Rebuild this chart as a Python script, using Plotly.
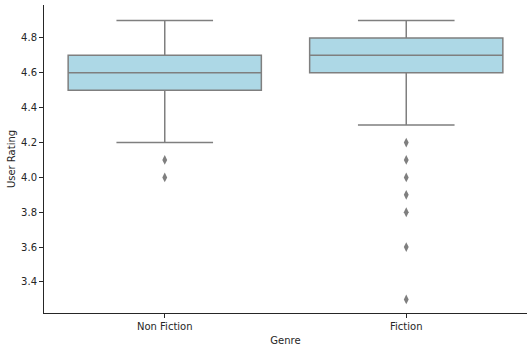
import plotly.graph_objects as go

genres = ["Non Fiction", "Fiction"]
q1 = [4.5, 4.6]
median = [4.6, 4.7]
q3 = [4.7, 4.8]
lower_whisker = [4.2, 4.3]
upper_whisker = [4.9, 4.9]
outliers_nonfiction = [4.0, 4.1]
outliers_fiction = [4.2, 4.1, 4.0, 3.9, 3.8, 3.6, 3.3]

box_fill = "#add8e6"
line_col = "#7f7f7f"
font = "DejaVu Sans"

fig = go.Figure()
fig.add_trace(go.Box(
    x=genres, q1=q1, median=median, q3=q3,
    lowerfence=lower_whisker, upperfence=upper_whisker,
    fillcolor=box_fill, line=dict(color=line_col, width=1.5),
    width=0.8, whiskerwidth=0.5, boxpoints=False, showlegend=False,
))
for g, vals in zip(genres, [outliers_nonfiction, outliers_fiction]):
    fig.add_trace(go.Scatter(
        x=[g] * len(vals), y=vals, mode="markers",
        marker=dict(symbol="diamond-tall", size=7, color=line_col,
                    line=dict(width=0)),
        showlegend=False, hoverinfo="y",
    ))

fig.update_layout(
    width=532, height=352,
    margin=dict(l=44, r=5, t=5, b=39),
    paper_bgcolor="white", plot_bgcolor="white",
    font=dict(family=font, size=10, color="#262626"),
)
fig.update_xaxes(
    type="category", range=[-0.5, 1.5],
    showline=True, linecolor="#262626", linewidth=1,
    ticks="outside", ticklen=4, tickcolor="#262626",
    showgrid=False, zeroline=False,
    title=dict(text="Genre", font=dict(size=10), standoff=5),
)
fig.update_yaxes(
    range=[3.222, 4.989], tickvals=[3.4, 3.6, 3.8, 4.0, 4.2, 4.4, 4.6, 4.8],
    tickformat=".1f",
    showline=True, linecolor="#262626", linewidth=1,
    ticks="outside", ticklen=4, tickcolor="#262626",
    showgrid=False, zeroline=False,
    title=dict(text="User Rating", font=dict(size=10), standoff=3),
)
fig.write_html("out.html")
